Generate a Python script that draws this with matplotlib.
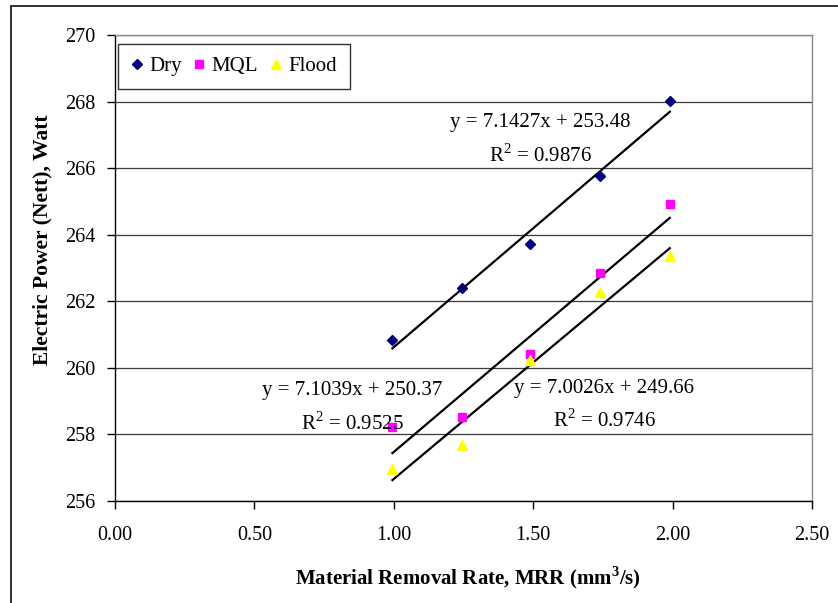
import matplotlib
matplotlib.use("Agg")
import matplotlib.pyplot as plt
from matplotlib.patches import Rectangle
import numpy as np

# Material removal rate (mm^3/s)
mrr = [0.995, 1.245, 1.49, 1.74, 1.99]

# Net electric power (W) for each cooling condition
dry = [260.85, 262.40, 263.72, 265.75, 268.03]
mql = [258.22, 258.52, 260.42, 262.85, 264.91]
flood = [256.97, 257.68, 260.23, 262.27, 263.37]

series_names = ["Dry", "MQL", "Flood"]

# Linear trendline coefficients (slope, intercept) and R^2
slopes = [7.1427, 7.1039, 7.0026]
intercepts = [253.48, 250.37, 249.66]
r_squared = [0.9876, 0.9525, 0.9746]

x_ticks = [0.0, 0.5, 1.0, 1.5, 2.0, 2.5]
y_ticks = [256, 258, 260, 262, 264, 266, 268, 270]

plt.rcParams["font.family"] = ["Liberation Serif", "DejaVu Serif"]
plt.rcParams["mathtext.fontset"] = "custom"
plt.rcParams["mathtext.rm"] = "Liberation Serif"
plt.rcParams["mathtext.bf"] = "Liberation Serif:bold"

W, H = 838, 603
fig = plt.figure(figsize=(W / 100, H / 100), dpi=100)
ax = fig.add_axes([115 / W, 1 - 501 / H, (812 - 115) / W, (501 - 35) / H])

# outer chart border
fig.patches.append(Rectangle((11 / W, -0.05), 1.2, 1 - 6 / H + 0.05,
                             transform=fig.transFigure, fill=False,
                             edgecolor="#222222", linewidth=1.3))

ax.set_xlim(x_ticks[0], x_ticks[-1])
ax.set_ylim(y_ticks[0], y_ticks[-1])
ax.set_xticks(x_ticks)
ax.set_yticks(y_ticks)
ax.set_xticklabels([f"{v:.2f}" for v in x_ticks])
ax.set_yticklabels([str(v) for v in y_ticks])
ax.tick_params(axis="both", labelsize=14.5, direction="out", length=6,
               width=1, color="black")
ax.tick_params(axis="x", pad=12)
ax.tick_params(axis="y", pad=8)

ax.yaxis.grid(True, color="#3a3a3a", linewidth=0.9)
ax.set_axisbelow(True)
for side in ["top", "right"]:
    ax.spines[side].set_color("#888888")
    ax.spines[side].set_linewidth(1)
for side in ["left", "bottom"]:
    ax.spines[side].set_color("black")
    ax.spines[side].set_linewidth(1)

styles = [
    dict(marker="D", color="#000080", markersize=4.8),
    dict(marker="s", color="#FF00FF", markersize=5.5),
    dict(marker="^", color="#FFFF00", markersize=7),
]
data = [dry, mql, flood]

xs = np.array(mrr)
xfit = np.array([xs.min(), xs.max()])
for ys, st, name, m, b in zip(data, styles, series_names, slopes, intercepts):
    ax.plot(xfit, m * xfit + b, color="black", linewidth=1.6, zorder=2)
for ys, st, name in zip(data, styles, series_names):
    ax.plot(mrr, ys, linestyle="none", marker=st["marker"],
            markersize=st["markersize"], markerfacecolor=st["color"],
            markeredgecolor=st["color"], label=name, zorder=3)

# trendline equations
label_pos = [(540, 123, 155), (352, 390, 423), (604, 388, 420)]
for (px, py1, py2), m, b, r2 in zip(label_pos, slopes, intercepts, r_squared):
    fx = px / W
    fig.text(fx, 1 - py1 / H, f"y = {m:.4f}x + {b:.2f}", ha="center",
             va="center", fontsize=15)
    fig.text(fx, 1 - py2 / H, f"R$^2$ = {r2:.4f}", ha="center",
             va="center", fontsize=15)

leg = ax.legend(loc="upper left", bbox_to_anchor=(0.004, 0.98), ncol=3,
                fontsize=15, frameon=True, fancybox=False, borderaxespad=0,
                handlelength=0.6, handletextpad=0.3, columnspacing=0.55,
                borderpad=0.6)
leg.get_frame().set_edgecolor("black")
leg.get_frame().set_linewidth(1)

fig.text(468 / W, 1 - 578 / H, r"Material Removal Rate, MRR (mm$^\mathbf{3}$/s)",
         ha="center", va="center", fontsize=15, fontweight="bold")
fig.text(42 / W, 1 - 240 / H, "Electric Power (Nett), Watt", ha="center",
         va="center", rotation=90, fontsize=15.5, fontweight="bold")

fig.savefig("out.png", dpi=100)
